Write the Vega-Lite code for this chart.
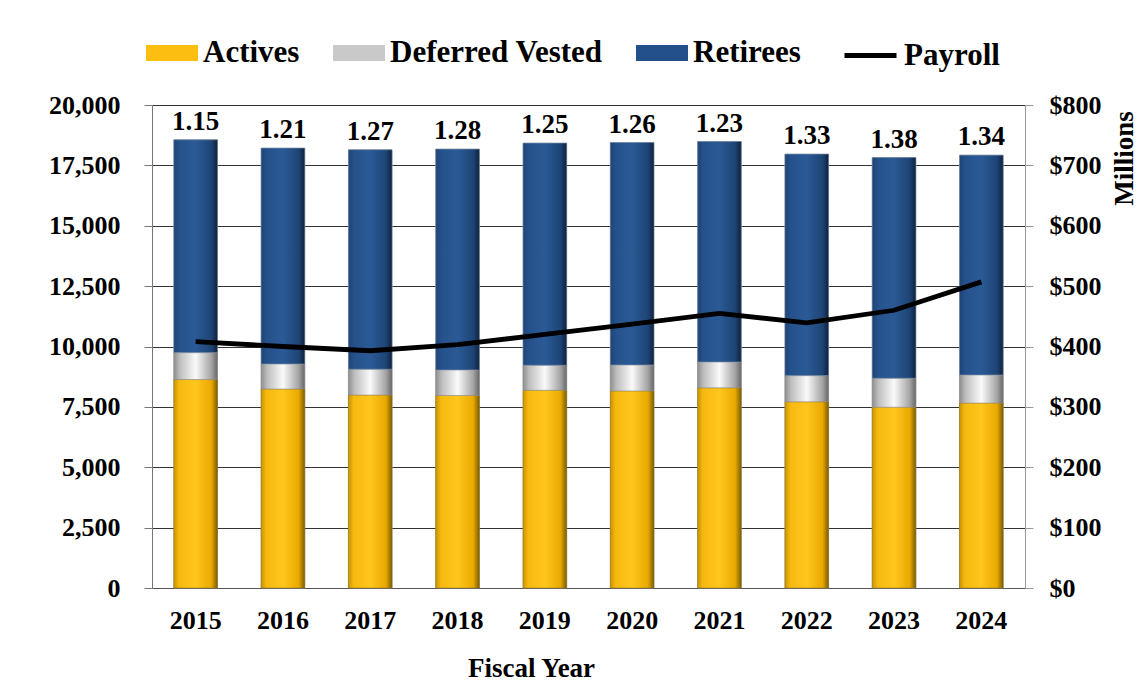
{
  "$schema": "https://vega.github.io/schema/vega-lite/v6.json",
  "width": 873,
  "height": 483,
  "autosize": {"type": "none"},
  "padding": {"left": 152, "top": 105, "right": 119, "bottom": 108},
  "background": "white",
  "config": {
    "font": "Liberation Serif",
    "view": {"stroke": null},
    "axis": {
      "labelFont": "Liberation Serif",
      "labelFontWeight": "bold",
      "labelFontSize": 26,
      "labelColor": "#000000",
      "titleFont": "Liberation Serif",
      "titleFontWeight": "bold",
      "titleFontSize": 27,
      "titleColor": "#000000"
    },
    "legend": {
      "labelFont": "Liberation Serif",
      "labelFontWeight": "bold",
      "labelFontSize": 31,
      "labelColor": "#000000",
      "labelLimit": 400,
      "padding": 0
    }
  },
  "datasets": {
    "members": [
      {"year": "2015", "series": "Actives", "count": 8632},
      {"year": "2015", "series": "Deferred Vested", "count": 1115},
      {"year": "2015", "series": "Retirees", "count": 8811},
      {"year": "2016", "series": "Actives", "count": 8242},
      {"year": "2016", "series": "Deferred Vested", "count": 1037},
      {"year": "2016", "series": "Retirees", "count": 8936},
      {"year": "2017", "series": "Actives", "count": 7993},
      {"year": "2017", "series": "Deferred Vested", "count": 1067},
      {"year": "2017", "series": "Retirees", "count": 9084},
      {"year": "2018", "series": "Actives", "count": 7971},
      {"year": "2018", "series": "Deferred Vested", "count": 1060},
      {"year": "2018", "series": "Retirees", "count": 9142},
      {"year": "2019", "series": "Actives", "count": 8188},
      {"year": "2019", "series": "Deferred Vested", "count": 1037},
      {"year": "2019", "series": "Retirees", "count": 9197},
      {"year": "2020", "series": "Actives", "count": 8162},
      {"year": "2020", "series": "Deferred Vested", "count": 1076},
      {"year": "2020", "series": "Retirees", "count": 9209},
      {"year": "2021", "series": "Actives", "count": 8291},
      {"year": "2021", "series": "Deferred Vested", "count": 1071},
      {"year": "2021", "series": "Retirees", "count": 9126},
      {"year": "2022", "series": "Actives", "count": 7711},
      {"year": "2022", "series": "Deferred Vested", "count": 1084},
      {"year": "2022", "series": "Retirees", "count": 9171},
      {"year": "2023", "series": "Actives", "count": 7489},
      {"year": "2023", "series": "Deferred Vested", "count": 1198},
      {"year": "2023", "series": "Retirees", "count": 9138},
      {"year": "2024", "series": "Actives", "count": 7660},
      {"year": "2024", "series": "Deferred Vested", "count": 1164},
      {"year": "2024", "series": "Retirees", "count": 9100}
    ],
    "years": [
      {"year": "2015", "ratio": 1.15, "payroll": 408},
      {"year": "2016", "ratio": 1.21, "payroll": 400},
      {"year": "2017", "ratio": 1.27, "payroll": 393},
      {"year": "2018", "ratio": 1.28, "payroll": 403},
      {"year": "2019", "ratio": 1.25, "payroll": 420},
      {"year": "2020", "ratio": 1.26, "payroll": 437},
      {"year": "2021", "ratio": 1.23, "payroll": 455},
      {"year": "2022", "ratio": 1.33, "payroll": 439},
      {"year": "2023", "ratio": 1.38, "payroll": 460},
      {"year": "2024", "ratio": 1.34, "payroll": 507}
    ]
  },
  "layer": [
    {
      "data": {"name": "members"},
      "mark": {"type": "bar", "stroke": "#9a9a9a", "strokeWidth": 0.6},
      "encoding": {
        "x": {
          "field": "year",
          "type": "ordinal",
          "scale": {"paddingInner": 0.5},
          "axis": {
            "title": "Fiscal Year",
            "titleX": 379,
            "labelAngle": 0,
            "ticks": false,
            "labelPadding": 19,
            "titlePadding": 22,
            "domainColor": "#555555",
            "domainWidth": 1.2
          }
        },
        "y": {
          "field": "count",
          "type": "quantitative",
          "stack": "zero",
          "scale": {"domain": [0, 20000]},
          "axis": {
            "title": null,
            "values": [0, 2500, 5000, 7500, 10000, 12500, 15000, 17500, 20000],
            "format": ",.0f",
            "domainColor": "#777777",
            "tickColor": "#777777",
            "tickSize": 8,
            "labelPadding": 24,
            "gridColor": "#333333",
            "gridWidth": 1
          }
        },
        "order": {"field": "series", "type": "nominal", "sort": "ascending"},
        "color": {
          "field": "series",
          "type": "nominal",
          "scale": {
            "domain": ["Actives", "Deferred Vested", "Retirees"],
            "range": ["#FDBE12", "#C9C9C9", "#23508A"]
          },
          "legend": {
            "title": null,
            "orient": "none",
            "direction": "horizontal",
            "legendX": -6,
            "legendY": -78,
            "symbolType": "M-1,-0.31H1V0.31H-1Z",
            "symbolSize": 2704,
            "symbolStrokeWidth": 0,
            "labelOffset": 5,
            "columnPadding": 33
          }
        }
      }
    },
    {
      "data": {"name": "members"},
      "transform": [
        {"stack": "count", "groupby": ["year"], "sort": [{"field": "series", "order": "ascending"}], "as": ["y0", "y1"]},
        {"filter": "datum.series === 'Actives'"}
      ],
      "mark": {
        "type": "bar",
        "stroke": "#8a7020",
        "strokeWidth": 0.5,
        "color": {
          "x1": 0, "y1": 0, "x2": 1, "y2": 0,
          "gradient": "linear",
          "stops": [
            {"offset": 0, "color": "#C99400"},
            {"offset": 0.12, "color": "#F6B90E"},
            {"offset": 0.5, "color": "#FFC61E"},
            {"offset": 0.86, "color": "#E9A900"},
            {"offset": 1, "color": "#7A5C00"}
          ]
        }
      },
      "encoding": {
        "x": {"field": "year", "type": "ordinal"},
        "y": {"field": "y0", "type": "quantitative", "scale": {"domain": [0, 20000]}, "axis": null},
        "y2": {"field": "y1"}
      }
    },
    {
      "data": {"name": "members"},
      "transform": [
        {"stack": "count", "groupby": ["year"], "sort": [{"field": "series", "order": "ascending"}], "as": ["y0", "y1"]},
        {"filter": "datum.series === 'Deferred Vested'"}
      ],
      "mark": {
        "type": "bar",
        "stroke": "#8c8c8c",
        "strokeWidth": 0.5,
        "color": {
          "x1": 0, "y1": 0, "x2": 1, "y2": 0,
          "gradient": "linear",
          "stops": [
            {"offset": 0, "color": "#8E8E8E"},
            {"offset": 0.14, "color": "#BEBEBE"},
            {"offset": 0.5, "color": "#FAFAFA"},
            {"offset": 0.86, "color": "#A4A4A4"},
            {"offset": 1, "color": "#666666"}
          ]
        }
      },
      "encoding": {
        "x": {"field": "year", "type": "ordinal"},
        "y": {"field": "y0", "type": "quantitative", "scale": {"domain": [0, 20000]}, "axis": null},
        "y2": {"field": "y1"}
      }
    },
    {
      "data": {"name": "members"},
      "transform": [
        {"stack": "count", "groupby": ["year"], "sort": [{"field": "series", "order": "ascending"}], "as": ["y0", "y1"]},
        {"filter": "datum.series === 'Retirees'"}
      ],
      "mark": {
        "type": "bar",
        "stroke": "#8a9ab0",
        "strokeWidth": 0.5,
        "color": {
          "x1": 0, "y1": 0, "x2": 1, "y2": 0,
          "gradient": "linear",
          "stops": [
            {"offset": 0, "color": "#1E4476"},
            {"offset": 0.14, "color": "#25528B"},
            {"offset": 0.5, "color": "#2A5A96"},
            {"offset": 0.86, "color": "#1E4475"},
            {"offset": 1, "color": "#0E213D"}
          ]
        }
      },
      "encoding": {
        "x": {"field": "year", "type": "ordinal"},
        "y": {"field": "y0", "type": "quantitative", "scale": {"domain": [0, 20000]}, "axis": null},
        "y2": {"field": "y1"}
      }
    },
    {
      "data": {"name": "members"},
      "transform": [
        {
          "lookup": "year",
          "from": {"data": {"name": "years"}, "key": "year", "fields": ["ratio"]}
        }
      ],
      "mark": {
        "type": "text",
        "baseline": "bottom",
        "dy": -4,
        "fontSize": 27,
        "fontWeight": "bold",
        "font": "Liberation Serif",
        "color": "#000000"
      },
      "encoding": {
        "x": {"field": "year", "type": "ordinal"},
        "y": {
          "aggregate": "sum",
          "field": "count",
          "type": "quantitative",
          "scale": {"domain": [0, 20000]},
          "axis": null
        },
        "text": {"aggregate": "max", "field": "ratio", "type": "quantitative", "format": ".2f"}
      }
    },
    {
      "data": {"name": "years"},
      "mark": {"type": "line", "strokeWidth": 4.8},
      "encoding": {
        "x": {"field": "year", "type": "ordinal"},
        "y": {
          "field": "payroll",
          "type": "quantitative",
          "scale": {"domain": [0, 800]},
          "axis": {
            "orient": "right",
            "title": "Millions",
            "titleAngle": 270,
            "titleX": 99,
            "titleY": 53,
            "titleAlign": "center",
            "titleBaseline": "middle",
            "values": [0, 100, 200, 300, 400, 500, 600, 700, 800],
            "format": "$,.0f",
            "grid": false,
            "domainColor": "#999999",
            "tickColor": "#999999",
            "tickSize": 8,
            "labelPadding": 16
          }
        },
        "stroke": {
          "datum": "Payroll",
          "type": "nominal",
          "scale": {"domain": ["Payroll"], "range": ["#000000"]},
          "legend": {
            "title": null,
            "orient": "none",
            "legendX": 690,
            "legendY": -78,
            "symbolType": "stroke",
            "symbolSize": 2704,
            "symbolStrokeWidth": 4.8,
            "labelOffset": 5
          }
        }
      }
    }
  ],
  "resolve": {"scale": {"y": "independent"}}
}
